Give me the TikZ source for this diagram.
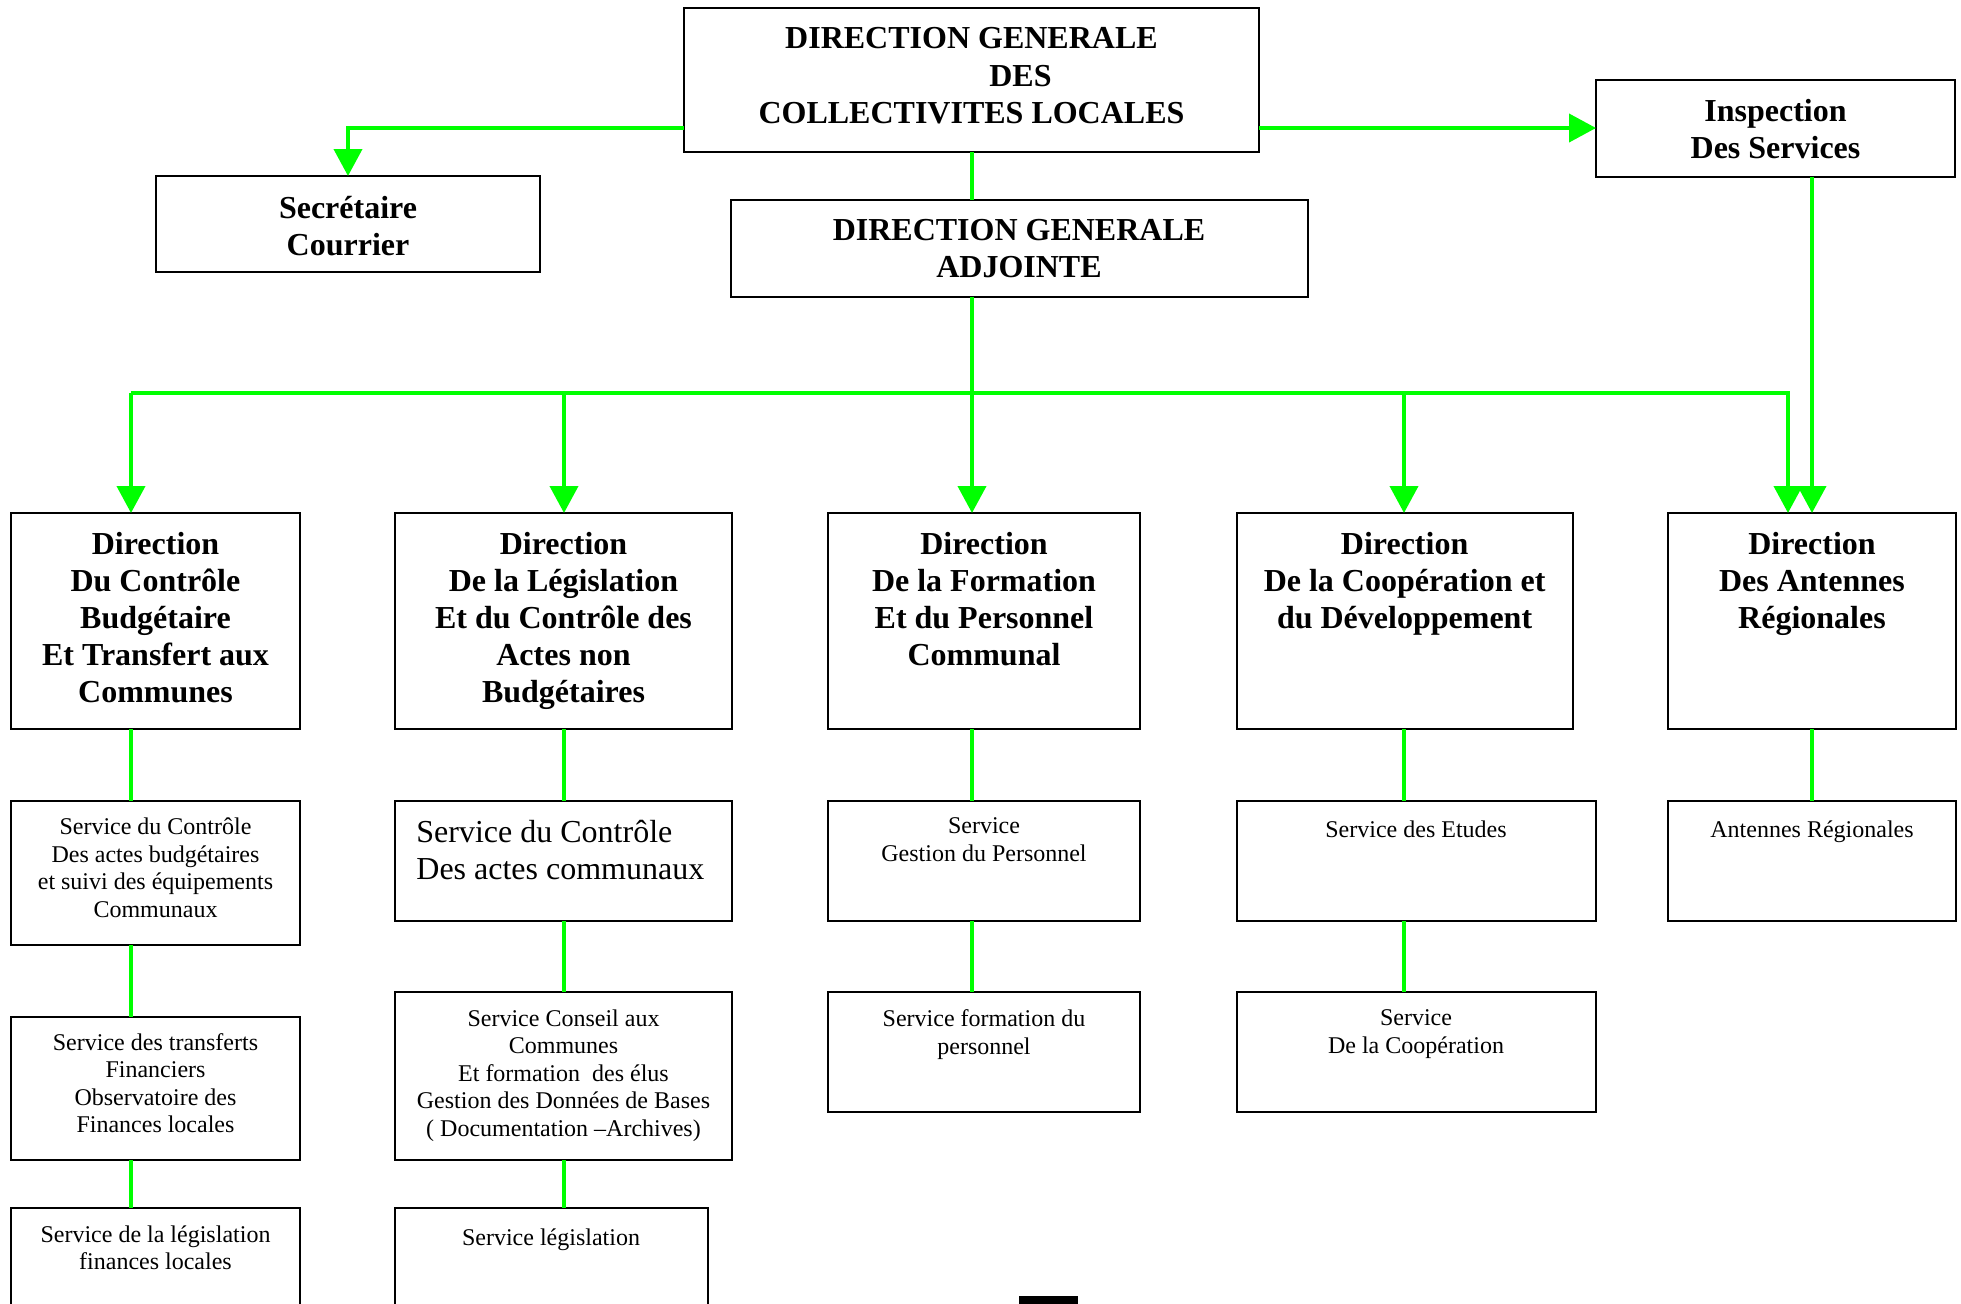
\documentclass[tikz,border=0pt]{standalone}
\usepackage{fontspec}
\setmainfont{Liberation Serif}
\usetikzlibrary{arrows.meta}
\definecolor{lgreen}{RGB}{0,255,0}
\begin{document}
\begin{tikzpicture}[x=0.5pt,y=-0.5pt,
  box/.style={draw=black,line width=1pt,fill=white,inner sep=0pt,outer sep=0pt,anchor=north west,rectangle},
  big/.style={font=\fontsize{16}{18.6}\selectfont\bfseries,align=center,inner sep=0pt,anchor=north,yshift=-2.2pt,execute at begin node={\rule{0pt}{13pt}}},
  sm/.style={font=\fontsize{12}{13.75}\selectfont,align=center,inner sep=0pt,anchor=north,yshift=-2.2pt,execute at begin node={\rule{0pt}{10pt}}},
  md/.style={font=\fontsize{16}{18.3}\selectfont,align=left,inner sep=0pt,anchor=north west,yshift=-2.2pt,execute at begin node={\rule{0pt}{13pt}}},
  conn/.style={draw=lgreen,line width=2pt},
  arr/.style={conn,-{Triangle[length=13.5pt,width=14pt]}}
]
\useasboundingbox (0,0) rectangle (1961,1303);
\clip (0,0) rectangle (1961,1303);
\fill[white] (0,0) rectangle (1961,1303);

% column coordinates
\coordinate (c1) at (131,0);
\coordinate (c2) at (564,0);
\coordinate (c3) at (972,0);
\coordinate (c4) at (1404,0);
\coordinate (c5) at (1812,0);
\coordinate (cB) at (1788,0);
\coordinate (cS) at (348,0);
\coordinate (yT) at (0,128);
\coordinate (bus) at (0,393);

% top boxes
\node[box,minimum width=287.5pt,minimum height=72pt] (T) at (684,8) {};
\node[box,minimum width=192pt,minimum height=48pt] (S) at (156,176) {};
\node[box,minimum width=288.25pt,minimum height=48.3pt] (DGA) at (731,200) {};
\node[box,minimum width=179.5pt,minimum height=48.3pt] (I) at (1596,80) {};

% direction boxes
\node[box,minimum width=144.5pt,minimum height=108pt] (D1) at (11,513) {};
\node[box,minimum width=168.5pt,minimum height=108pt] (D2) at (395,513) {};
\node[box,minimum width=156pt,minimum height=108pt] (D3) at (828,513) {};
\node[box,minimum width=168pt,minimum height=108pt] (D4) at (1236.6,513) {};
\node[box,minimum width=144pt,minimum height=108pt] (D5) at (1668,513) {};

% service boxes row 2
\node[box,minimum width=144.5pt,minimum height=72pt] (S11) at (11,801) {};
\node[box,minimum width=168.5pt,minimum height=60pt] (S21) at (395,801) {};
\node[box,minimum width=156pt,minimum height=60pt] (S31) at (828,801) {};
\node[box,minimum width=179.7pt,minimum height=60pt] (S41) at (1236.6,801) {};
\node[box,minimum width=144pt,minimum height=60pt] (S51) at (1668,801) {};
% row 3
\node[box,minimum width=144.5pt,minimum height=71.5pt] (S12) at (11,1017) {};
\node[box,minimum width=168.5pt,minimum height=84pt] (S22) at (395,992) {};
\node[box,minimum width=156pt,minimum height=60pt] (S32) at (828,992) {};
\node[box,minimum width=179.7pt,minimum height=60pt] (S42) at (1236.6,992) {};
% row 4
\node[box,minimum width=144.5pt,minimum height=70pt] (S13) at (11,1208) {};
\node[box,minimum width=156.25pt,minimum height=70pt] (S23) at (395,1208) {};

\node[fill=black,inner sep=0pt,outer sep=0pt,anchor=north west,minimum width=29.5pt,minimum height=6pt] (blk) at (1019,1296) {};

% texts
\node[big] (Tt) at (971.5,23) {DIRECTION GENERALE\\\hspace*{49pt}DES\\COLLECTIVITES LOCALES};
\node[big] (St) at (348,191) {Secrétaire\\Courrier};
\node[big] (DGAt) at (1019,214.7) {DIRECTION GENERALE\\ADJOINTE};
\node[big] (It) at (1775.5,94.5) {Inspection\\Des Services};

\node[big] (D1t) at (155.5,527) {Direction\\Du Contrôle\\Budgétaire\\Et Transfert aux\\Communes};
\node[big] (D2t) at (563.5,527) {Direction\\De la Législation\\Et du Contrôle des\\Actes non\\Budgétaires};
\node[big] (D3t) at (984,527) {Direction\\De la Formation\\Et du Personnel\\Communal};
\node[big] (D4t) at (1404.6,527) {Direction\\De la Coopération et\\du Développement};
\node[big] (D5t) at (1812,527) {Direction\\Des Antennes\\Régionales};

\node[sm] (S11t) at (155.5,813) {Service du Contrôle\\Des actes budgétaires\\et suivi des équipements\\Communaux};
\node[md] (S21t) at (416,815.5) {Service du Contrôle\\Des actes communaux};
\node[sm] (S31t) at (984,813) {Service\\Gestion du Personnel};
\node[sm] (S41t) at (1416,813) {Service des Etudes};
\node[sm] (S51t) at (1812,813) {Antennes Régionales};

\node[sm] (S12t) at (155.5,1028.3) {Service des transferts\\Financiers\\Observatoire des\\Finances locales};
\node[sm] (S22t) at (563.5,1005) {Service Conseil aux\\Communes\\Et formation\ \ des élus\\Gestion des Données de Bases\\( Documentation –Archives)};
\node[sm] (S32t) at (984,1005) {Service formation du\\personnel};
\node[sm] (S42t) at (1416,1005) {Service\\De la Coopération};

\node[sm] (S13t) at (155.5,1220.7) {Service de la législation\\finances locales};
\node[sm] (S23t) at (551,1220.7) {Service législation};

% connectors top
\draw[arr] (T.west |- yT) -| (S.north -| cS);
\draw[arr] (T.east |- yT) -- (I.west |- yT);
\draw[conn] (T.south -| c3) -- (DGA.north -| c3);
\draw[arr] (DGA.south -| c3) -- (D3.north -| c3);
\draw[arr] (bus -| c1) -| (D5.north -| cB);
\draw[arr] (bus -| c1) -- (D1.north -| c1);
\draw[arr] (bus -| c2) -- (D2.north -| c2);
\draw[arr] (bus -| c4) -- (D4.north -| c4);
\draw[arr] (I.south -| c5) -- (D5.north -| c5);

% connectors to services
\draw[conn] (D1.south -| c1) -- (S11.north -| c1);
\draw[conn] (S11.south -| c1) -- (S12.north -| c1);
\draw[conn] (S12.south -| c1) -- (S13.north -| c1);
\draw[conn] (D2.south -| c2) -- (S21.north -| c2);
\draw[conn] (S21.south -| c2) -- (S22.north -| c2);
\draw[conn] (S22.south -| c2) -- (S23.north -| c2);
\draw[conn] (D3.south -| c3) -- (S31.north -| c3);
\draw[conn] (S31.south -| c3) -- (S32.north -| c3);
\draw[conn] (D4.south -| c4) -- (S41.north -| c4);
\draw[conn] (S41.south -| c4) -- (S42.north -| c4);
\draw[conn] (D5.south -| c5) -- (S51.north -| c5);
\end{tikzpicture}
\end{document}
